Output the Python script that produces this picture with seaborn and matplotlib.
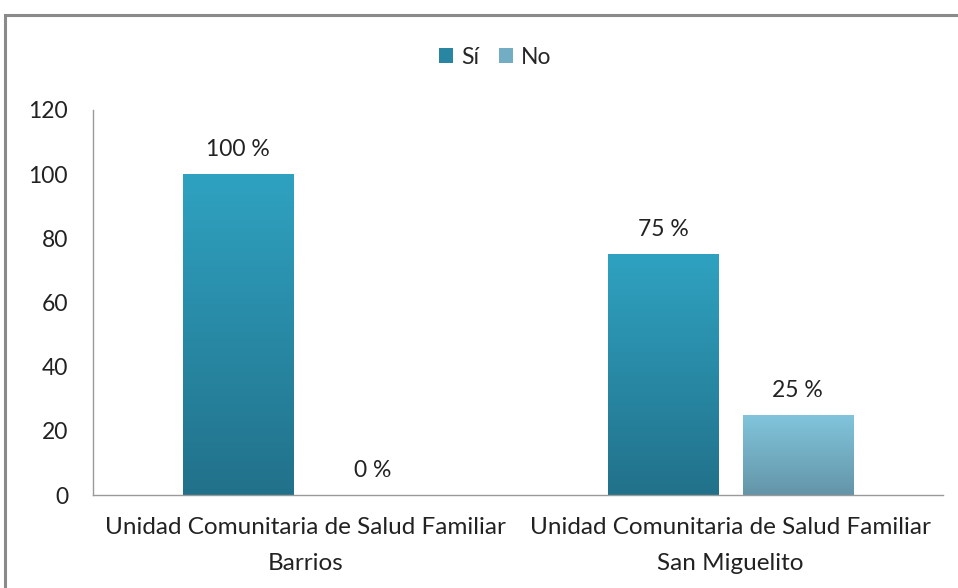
import numpy as np
import pandas as pd
import matplotlib
matplotlib.use("Agg")
import matplotlib.pyplot as plt
import seaborn as sns
from matplotlib.colors import LinearSegmentedColormap
from matplotlib.patches import Rectangle, Patch

categories = ["Unidad Comunitaria de Salud Familiar\nBarrios",
              "Unidad Comunitaria de Salud Familiar\nSan Miguelito"]
series = ["Sí", "No"]
si_values = [100, 75]
no_values = [0, 25]
labels_si = ["100 %", "75 %"]
labels_no = ["0 %", "25 %"]
yticks = [0, 20, 40, 60, 80, 100, 120]

df = pd.DataFrame({
    "cat": categories * 2,
    "serie": [series[0]] * 2 + [series[1]] * 2,
    "val": si_values + no_values,
    "lab": labels_si + labels_no,
})

sns.set_theme(style="white")
plt.rcParams["font.family"] = ["Lato", "DejaVu Sans"]

fig = plt.figure(figsize=(9.58, 5.88), dpi=100)
ax = fig.add_axes([93/958, 1-495/588, (943-93)/958, (495-110)/588])

colors = {"Sí": "#2a93b3", "No": "#77b6cc"}
sns.barplot(data=df, x="cat", y="val", hue="serie", hue_order=series,
            palette=colors, width=0.632, gap=0.18, ax=ax, legend=False,
            edgecolor="none")

grads = {
    "Sí": ("#2fa2c1", "#22718a"),
    "No": ("#81c5dc", "#6495a8"),
}

# gradient fills
for container, s in zip(ax.containers, series):
    top, bot = grads[s]
    cmap = LinearSegmentedColormap.from_list(s, [bot, top])
    for bar in container:
        h = bar.get_height()
        if h <= 0:
            continue
        x0 = bar.get_x()
        w = bar.get_width()
        bar.set_facecolor("none")
        grad = np.linspace(0, 1, 256).reshape(-1, 1)
        im = ax.imshow(grad, cmap=cmap, origin="lower", aspect="auto",
                       extent=[x0, x0 + w, 0, h], zorder=2)
        im.set_clip_path(bar)

ax.set_xlim(-0.5, 1.5)
ax.set_ylim(0, 120)

# value labels
for container, s in zip(ax.containers, series):
    labs = df[df["serie"] == s]["lab"].tolist()
    ax.bar_label(container, labels=labs, padding=10, fontsize=16.5, color="#222222")

ax.set_yticks(yticks)
ax.set_yticklabels([str(t) for t in yticks], fontsize=16.5, color="#222222")
ax.tick_params(axis="y", length=0, pad=18)
ax.tick_params(axis="x", length=0, pad=16, labelsize=17.5, labelcolor="#222222")
for lab in ax.get_xticklabels():
    lab.set_linespacing(1.85)
ax.set_xlabel("")
ax.set_ylabel("")
for side in ["top", "right"]:
    ax.spines[side].set_visible(False)
for side in ["left", "bottom"]:
    ax.spines[side].set_color("#9a9a9a")
    ax.spines[side].set_linewidth(1.0)

# legend
handles = [Patch(facecolor="#2886a3", edgecolor="none"),
           Patch(facecolor="#72adc3", edgecolor="none")]
fig.legend(handles, series, loc="center", bbox_to_anchor=(0.517, 1-57/588),
           ncol=2, frameon=False, fontsize=16.5, handlelength=0.6, handleheight=0.6,
           handletextpad=0.35, columnspacing=0.9)

# outer chart border
fig.patches.append(Rectangle((5/958, -0.05), 1.1, 1 - 15/588 + 0.05,
                             transform=fig.transFigure, fill=False,
                             edgecolor="#8a8a8a", linewidth=2.2))

fig.savefig("out.png", dpi=100)
